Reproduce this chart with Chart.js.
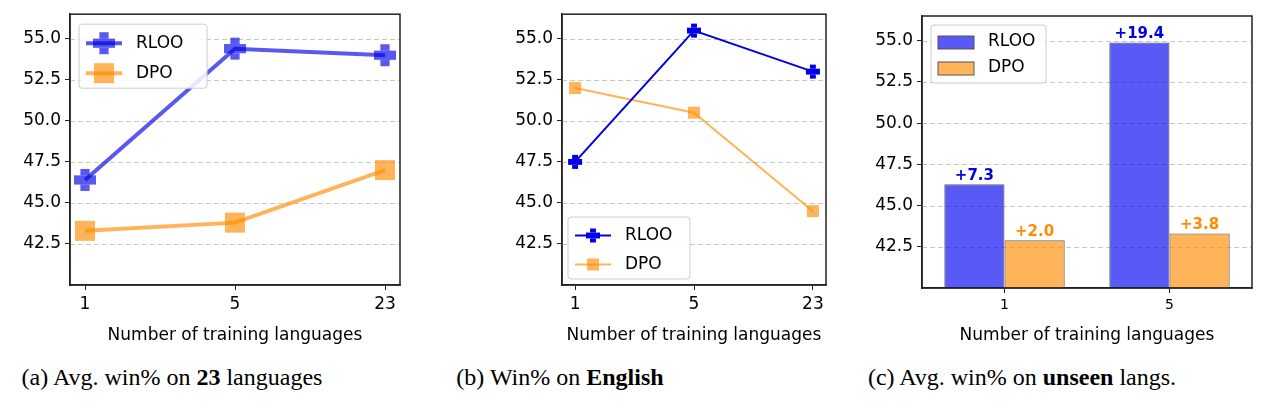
<!DOCTYPE html>
<html><head><meta charset="utf-8">
<script src="https://cdn.jsdelivr.net/npm/chart.js@4/dist/chart.umd.min.js"></script>
<style>
body{margin:0;background:#fff;width:1261px;height:409px;position:relative;overflow:hidden;font-family:"DejaVu Sans"}
canvas{position:absolute}
.cap{position:absolute;top:364px;font-family:"Liberation Serif","DejaVu Serif";font-size:24px;color:#000;white-space:nowrap;transform:translateX(-50%)}
</style></head><body>
<canvas id="a" style="left:0;top:0" width="415" height="350"></canvas>
<canvas id="b" style="left:490px;top:0" width="345" height="350"></canvas>
<canvas id="c" style="left:850px;top:0" width="411" height="350"></canvas>
<div class="cap" style="left:172px">(a) Avg. win% on <b>23</b> languages</div>
<div class="cap" style="left:560px">(b) Win% on <b>English</b></div>
<div class="cap" style="left:1022px">(c) Avg. win% on <b>unseen</b> langs.</div>
<script>
const langLabels = ["1","5","23"];
const barLabels = ["1","5"];
const yTicks = [42.5,45.0,47.5,50.0,52.5,55.0];
const aRLOO = [46.4,54.4,54.0];
const aDPO = [43.3,43.8,47.0];
const bRLOO = [47.5,55.5,53.0];
const bDPO = [52.0,50.5,44.5];
const cRLOO = [46.3,54.9];
const cDPO = [42.9,43.3];
const cRLOOGain = ["+7.3","+19.4"];
const cDPOGain = ["+2.0","+3.8"];

const FONT = "DejaVu Sans";
Chart.defaults.font.family = FONT;
Chart.defaults.color = "#000";
Chart.defaults.animation = false;

function drawMarker(ctx,kind,x,y,r,color){
  ctx.save();ctx.fillStyle=color;
  if(kind==='rect'){ctx.fillRect(x-r,y-r,2*r,2*r);}
  else{const t=r*0.42;ctx.fillRect(x-r,y-t,2*r,2*t);ctx.fillRect(x-t,y-r,2*t,r-t);ctx.fillRect(x-t,y+t,2*t,r-t);}
  ctx.restore();
}
const framePlugin = {
  id:'frame',
  beforeDatasetsDraw(ch){
    const {ctx,chartArea:a,scales:{y}} = ch;
    ctx.save();ctx.strokeStyle='#c8c8c8';ctx.lineWidth=1;ctx.setLineDash([5,3]);
    yTicks.forEach(v=>{const p=Math.round(y.getPixelForValue(v))+0.5;ctx.beginPath();ctx.moveTo(a.left,p);ctx.lineTo(a.right,p);ctx.stroke();});
    ctx.restore();
  },
  afterDatasetsDraw(ch){
    const ctx=ch.ctx;
    ch.data.datasets.forEach((d,i)=>{
      if(!d.mk)return;
      ch.getDatasetMeta(i).data.forEach(p=>drawMarker(ctx,d.mk,p.x,p.y,d.mr,d.borderColor));
    });
  },
  afterDraw(ch){
    const {ctx,chartArea:a} = ch;
    ctx.save();ctx.strokeStyle='#222';ctx.lineWidth=1.5;ctx.strokeRect(a.left,a.top,a.right-a.left,a.bottom-a.top);
    const o = ch.options.plugins.boxLegend; if(!o){ctx.restore();return;}
    const x0=a.left+o.x, y0=(o.fromBottom? a.bottom-o.y-o.h : a.top+o.y);
    ctx.fillStyle='rgba(255,255,255,0.85)';ctx.strokeStyle='#ccc';ctx.lineWidth=1;
    ctx.beginPath();ctx.roundRect(x0,y0,o.w,o.h,3);ctx.fill();ctx.stroke();
    ch.data.datasets.forEach((d,i)=>{
      const cy=y0+o.rowH*(i+0.5)+4;
      if(o.bar){
        ctx.fillStyle=d.backgroundColor;ctx.fillRect(x0+7,cy-6,36,13);ctx.strokeStyle='#555';ctx.strokeRect(x0+7,cy-6,36,13);
      } else {
        ctx.strokeStyle=d.borderColor;ctx.lineWidth=d.borderWidth;ctx.beginPath();ctx.moveTo(x0+7,cy);ctx.lineTo(x0+43,cy);ctx.stroke();
        drawMarker(ctx,d.mk,x0+25,cy,d.mr,d.borderColor);
      }
      ctx.fillStyle='#000';ctx.font='17px '+FONT;ctx.textBaseline='middle';ctx.fillText(d.label,x0+57,cy);
    });
    ctx.restore();
  }
};
function yScale(w){return {min:40,max:56.5,afterFit:s=>{s.width=w;},
  afterBuildTicks:s=>{s.ticks=yTicks.map(v=>({value:v}));},
  ticks:{font:{size:17},callback:v=>v.toFixed(1),padding:4},
  grid:{drawOnChartArea:false,tickColor:'#222',tickLength:5},border:{color:'#222',width:1.5}};}
function xLin(min,max){return {type:'linear',min:min,max:max,afterFit:s=>{s.height=65;},
  afterBuildTicks:s=>{s.ticks=[0,1,2].map(v=>({value:v}));},
  ticks:{font:{size:17},callback:v=>langLabels[v],padding:4},
  grid:{drawOnChartArea:false,tickColor:'#222',tickLength:5},border:{color:'#222',width:1.5},
  title:{display:true,text:'Number of training languages',font:{size:17},padding:{top:4}}};}
function lineDs(label,vals,color,mk,lw,mr){
  return {label,data:vals.map((v,i)=>({x:i,y:v})),borderColor:color,backgroundColor:color,borderWidth:lw,
    showLine:true,pointRadius:0,pointHoverRadius:0,mk,mr};
}
const base=(pad,leg,xs,yw)=>({responsive:false,layout:{padding:pad},
  plugins:{legend:{display:false},tooltip:{enabled:false},boxLegend:leg},scales:{x:xs,y:yScale(yw)}});

new Chart(document.getElementById('a'),{type:'scatter',
  data:{datasets:[lineDs('RLOO',aRLOO,'rgba(0,0,230,0.65)','plus',4,11),lineDs('DPO',aDPO,'rgba(255,140,0,0.65)','rect',4,10)]},
  options:base({top:12,right:15,left:0,bottom:0},{x:9,y:10,w:128,h:64,rowH:30},xLin(-0.1,2.1),70),
  plugins:[framePlugin]});

new Chart(document.getElementById('b'),{type:'scatter',
  data:{datasets:[lineDs('RLOO',bRLOO,'#0000e6','plus',2,7),lineDs('DPO',bDPO,'rgba(255,140,0,0.65)','rect',2,6)]},
  options:base({top:12,right:9,left:0,bottom:0},{x:6,y:6,fromBottom:true,w:122,h:62,rowH:29},xLin(-0.11,2.11),72),
  plugins:[framePlugin]});

const gainPlugin={id:'gain',afterDatasetsDraw(ch){const ctx=ch.ctx;ctx.save();ctx.font='bold 15px '+FONT;ctx.textAlign='center';ctx.textBaseline='bottom';
  [[0,cRLOOGain,'#0000e0'],[1,cDPOGain,'#ff8c00']].forEach(([i,g,c])=>{ctx.fillStyle=c;ch.getDatasetMeta(i).data.forEach((b,j)=>ctx.fillText(g[j],b.x,b.y-1));});ctx.restore();}};
new Chart(document.getElementById('c'),{type:'bar',
  data:{labels:barLabels,datasets:[
    {label:'RLOO',data:cRLOO,backgroundColor:'rgba(0,0,240,0.65)',borderColor:'#666',borderWidth:1,barPercentage:1,categoryPercentage:0.73},
    {label:'DPO',data:cDPO,backgroundColor:'rgba(255,140,0,0.65)',borderColor:'#666',borderWidth:1,barPercentage:1,categoryPercentage:0.73}]},
  options:base({top:16,right:9,left:0,bottom:0},{x:9,y:9,w:115,h:58,rowH:26,bar:true},
    {afterFit:s=>{s.height=62;},ticks:{font:{size:14},padding:4},
      grid:{offset:false,drawOnChartArea:false,tickColor:'#222',tickLength:5},border:{color:'#222',width:1.5},
      title:{display:true,text:'Number of training languages',font:{size:17},padding:{top:4}}},72),
  plugins:[framePlugin,gainPlugin]});
</script></body></html>
